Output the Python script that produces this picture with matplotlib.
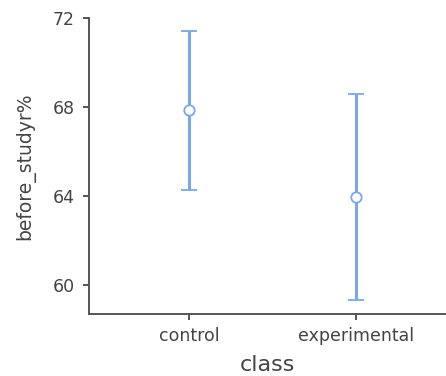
import matplotlib
matplotlib.use("Agg")
import matplotlib.pyplot as plt

# values
groups = ["control", "experimental"]
means = [67.88, 63.95]
lower = [64.28, 59.31]
upper = [71.43, 68.60]
yticks = [60, 64, 68, 72]

plt.rcParams['font.family'] = ['DejaVu Sans']

blue = '#7aa6ea'
grey = '#555555'

fig = plt.figure(figsize=(4.46, 3.76), dpi=100)
ax = fig.add_axes([89 / 446, 1 - 314 / 376, 1 - 89 / 446, (314 - 18.3) / 376])

x = list(range(len(groups)))
err = [[m - lo for m, lo in zip(means, lower)],
       [hi - m for m, hi in zip(means, upper)]]
ax.errorbar(x, means, yerr=err, fmt='o', color=blue, ecolor=blue,
            elinewidth=2.2, capsize=6, capthick=2.2,
            markersize=7.5, markerfacecolor='white', markeredgecolor=blue,
            markeredgewidth=1.3, zorder=3)

ax.set_xlim(-0.6, 1.54)
ax.set_ylim(58.7, 72)
ax.set_xticks(x)
ax.set_xticklabels(groups)
ax.set_yticks(yticks)

for side in ('top', 'right'):
    ax.spines[side].set_visible(False)
for side in ('left', 'bottom'):
    ax.spines[side].set_color(grey)
    ax.spines[side].set_linewidth(1.4)

ax.tick_params(axis='both', colors=grey, labelcolor='#444444', width=1.4,
               length=4.5, labelsize=12.5, direction='out')
ax.tick_params(axis='y', pad=6)
ax.tick_params(axis='x', pad=5)

ax.set_xlabel('class', fontsize=16, color='#444444', labelpad=7)
ax.set_ylabel('before_studyr%', fontsize=13.5, color='#444444', labelpad=12)

fig.savefig('out.png', dpi=100)
